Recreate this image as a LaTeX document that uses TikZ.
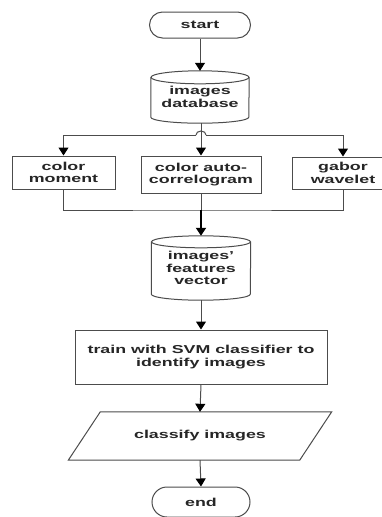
\documentclass[tikz,border=0pt]{standalone}
\usepackage{fontspec}
\setmainfont{Liberation Sans}[FakeStretch=1.55]
\usetikzlibrary{arrows.meta,calc}
\tikzset{
  txt/.style={font=\fontsize{11.5}{12.5}\selectfont\bfseries, align=center, inner sep=0pt, text=black!85},
  boxed/.style={txt, draw=black!70, line width=1pt},
  ln/.style={draw=black!70, line width=1pt},
  arr/.style={ln, -{Triangle[width=10pt,length=8pt,fill=black,color=black]}},
  thickarr/.style={draw=black, line width=2pt, -{Triangle[width=10pt,length=8pt,fill=black,color=black]}},
}
\begin{document}
\begin{tikzpicture}[x=1pt,y=1pt]
\clip (0,0) rectangle (382,-517);
\fill[white] (0,0) rectangle (382,-517);
% nodes
\node[boxed, rounded corners=13pt, minimum width=101pt, minimum height=26pt] (start) at (200,-25) {start};
\node[txt, minimum width=98pt, minimum height=52pt] (db) at (200,-97) {images\\database};
\node[boxed, minimum width=103pt, minimum height=33pt] (cm) at (63.5,-172.5) {color\\moment};
\node[boxed, minimum width=120pt, minimum height=37pt] (corr) at (201,-174.5) {color auto-\\correlogram};
\node[boxed, minimum width=102pt, minimum height=32pt] (gw) at (343,-173) {gabor\\wavelet};
\node[txt, minimum width=99pt, minimum height=64pt] (feat) at (201,-268) {images'\\features\\vector};
\node[boxed, minimum width=252pt, minimum height=54pt] (train) at (201,-357) {train with SVM classifier to\\identify images};
\node[txt, minimum width=231pt, minimum height=48pt] (para) at (200,-436) {classify images};
\node[boxed, rounded corners=15pt, minimum width=98pt, minimum height=30pt] (end) at (201,-502) {end};
\coordinate (split) at (201,-135);
\coordinate (join) at (201,-210);
% cylinder: database
\draw[ln] ($(db.north)+(0,-6.5)$) ellipse [x radius=49, y radius=6.5];
\draw[ln] ($(db.north west)+(0,-6.5)$) -- ($(db.south west)+(0,6)$)
  arc[start angle=180, end angle=360, x radius=49, y radius=6] -- ($(db.north east)+(0,-6.5)$);
% cylinder: features
\draw[ln] ($(feat.north)+(0,-6)$) ellipse [x radius=49.5, y radius=6];
\draw[ln] ($(feat.north west)+(0,-6)$) -- ($(feat.south west)+(0,6)$)
  arc[start angle=180, end angle=360, x radius=49.5, y radius=6] -- ($(feat.north east)+(0,-6)$);
% parallelogram
\draw[ln] ($(para.north west)+(16,0)$) -- ($(para.north east)+(16,0)$)
  -- ($(para.south east)+(-16,0)$) -- ($(para.south west)+(-16,0)$) -- cycle;
% connectors
\draw[arr] (start.south) -- (db.north);
\draw[arr] ($(db.south)+(1,0)$) -- (corr.north);
\draw[arr] ($(split)+(-5,0)$) -| (cm.north);
\draw[arr] ($(split)+(5,0)$) -| (gw.north);
\draw[ln] ($(split)+(-5,0)$) arc[start angle=180, end angle=0, x radius=5, y radius=4];
\draw[ln] (cm.south) |- (join) -| (gw.south);
\draw[ln] (corr.south) -- (join);
\draw[thickarr] (join) -- (feat.north);
\draw[arr] (feat.south) -- (train.north);
\draw[arr] (train.south) -- (para.north);
\draw[arr] (para.south) -- (end.north);
\end{tikzpicture}
\end{document}
